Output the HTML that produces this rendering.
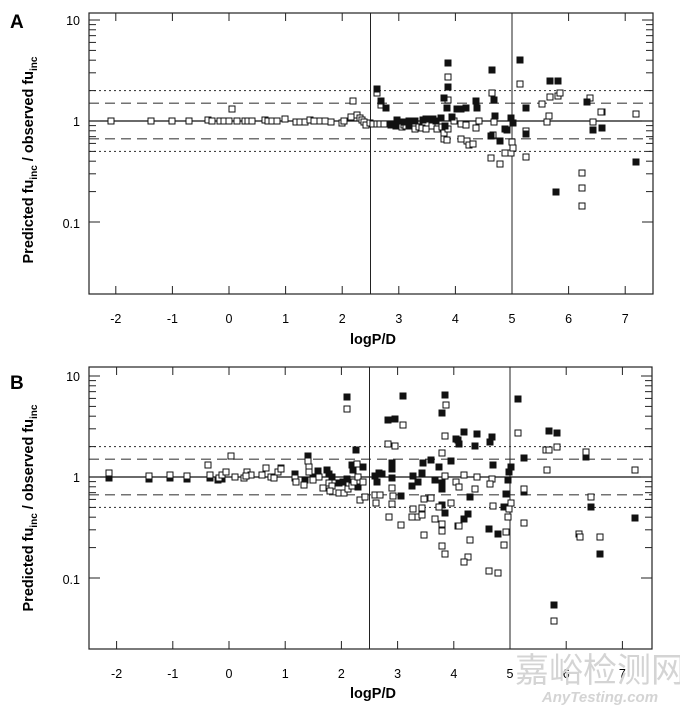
<!DOCTYPE html>
<html><head><meta charset="utf-8"><style>
html,body{margin:0;padding:0;background:#fff;}
svg{display:block;font-family:"Liberation Sans",Arial,sans-serif;}
</style></head><body>
<svg id="s" width="680" height="710" viewBox="0 0 680 710" xmlns="http://www.w3.org/2000/svg">
<text x="10" y="28" font-size="19" font-weight="bold">A</text>
<text x="10" y="389" font-size="19" font-weight="bold">B</text>
<text transform="translate(33,160) rotate(-90)" font-size="14.5" font-weight="bold" text-anchor="middle">Predicted fu<tspan font-size="10" dy="4">inc</tspan><tspan dy="-4"> / observed fu</tspan><tspan font-size="10" dy="4">inc</tspan></text>
<text transform="translate(33,508) rotate(-90)" font-size="14.5" font-weight="bold" text-anchor="middle">Predicted fu<tspan font-size="10" dy="4">inc</tspan><tspan dy="-4"> / observed fu</tspan><tspan font-size="10" dy="4">inc</tspan></text>
<text x="373" y="344" font-size="14.5" font-weight="bold" text-anchor="middle">logP/D</text>
<text x="373" y="698" font-size="14.5" font-weight="bold" text-anchor="middle">logP/D</text>
<g font-size="12.5" text-anchor="end">
<text x="80" y="25">10</text><text x="80" y="126">1</text><text x="80" y="228">0.1</text>
<text x="80" y="381">10</text><text x="80" y="482">1</text><text x="80" y="584">0.1</text>
</g>
<g id="xl" font-size="12.5" text-anchor="middle"></g>
<text x="600" y="682" font-size="34" fill="#d4d4d4" text-anchor="middle" font-family="'Noto Sans CJK SC',sans-serif">嘉峪检测网</text>
<text x="600" y="702" font-size="15" fill="#d4d4d4" text-anchor="middle" font-style="italic" font-weight="bold">AnyTesting.com</text>
<g id="g"></g>
</svg>
<script>
var NS="http://www.w3.org/2000/svg",g=document.getElementById('g'),xl=document.getElementById('xl');
function el(t,a,p){var e=document.createElementNS(NS,t);for(var k in a)e.setAttribute(k,a[k]);(p||g).appendChild(e);return e;}
function panel(top,bot,y1,xr5,right){
 var L=89,R=right,X=function(v){return 229+(xr5-229)/5*v;},Y=function(v){return y1-101*Math.log10(v);};
 [[2,"2,3"],[0.5,"2,3"],[1.5,"10,6"],[0.667,"10,6"]].forEach(function(h){el('line',{x1:L,x2:R,y1:Y(h[0]),y2:Y(h[0]),stroke:'#444','stroke-width':1.1,'stroke-dasharray':h[1]});});
 el('line',{x1:L,x2:R,y1:y1,y2:y1,stroke:'#111','stroke-width':1.3});
 el('line',{x1:X(2.5),x2:X(2.5),y1:top,y2:bot,stroke:'#222','stroke-width':1});
 el('line',{x1:X(5),x2:X(5),y1:top,y2:bot,stroke:'#222','stroke-width':1});
 for(var v=-2;v<=7;v++){var x=X(v);
  el('line',{x1:x,x2:x,y1:top,y2:top+8,stroke:'#222'});el('line',{x1:x,x2:x,y1:bot,y2:bot-8,stroke:'#222'});
  var t=el('text',{x:x,y:bot+29},xl);t.textContent=v;}
 [10,1,0.1].forEach(function(d){for(var m=1;m<10;m++){var v=d*m;var y=Y(v);if(y<top||y>bot)continue;var len=m==1?11:7;
  el('line',{x1:L,x2:L+len,y1:y,y2:y,stroke:'#222'});el('line',{x1:R,x2:R-len,y1:y,y2:y,stroke:'#222'});}});
 el('rect',{x:L,y:top,width:R-L,height:bot-top,fill:'none',stroke:'#222','stroke-width':1.2});
}
panel(13,294,121,512,653);
panel(367,649,477,510,652);
function pts(arr,fill){for(var i=0;i<arr.length;i+=2)el('rect',{x:arr[i]-3,y:arr[i+1]-3,width:6,height:6,fill:fill,stroke:'#111','stroke-width':1});}
// Panel A
pts([111,121,151,121,172,121,189,121,208,120,212,121,220,121,224,121,229,121,237,121,245,121,248,121,252,121,265,120,268,121,272,121,277,121,285,119,296,122,300,122,305,122,310,120,314,121,320,121,325,121,331,122,232,109,
342,123,344,121,351,117,353,101,357,115,360,118,362,120,364,122,366,125,370,123,373,124,377,124,380,124,384,124,391,125,393,124,400,123,402,127,404,125,406,126,415,129,419,127,422,128,426,129,432,126,437,129,442,127,444,133,448,129,444,139,447,140,454,121,461,124,466,125,461,139,467,141,469,145,473,144,476,128,479,121,492,93,494,122,493,135,491,158,500,164,505,153,511,153,512,142,513,148,520,84,526,131,526,157,549,116,550,97,558,96,560,93,590,98,593,122,602,112,636,114,582,173,582,206,582,188,601,112,542,104,547,122,377,93,381,105,448,77,448,100],'#fff');
pts([377,89,381,101,386,108,391,125,397,120,404,122,409,121,415,121,423,120,426,119,433,119,436,121,441,118,445,126,444,98,447,108,448,87,448,63,452,117,457,109,461,109,466,108,477,108,476,101,492,70,494,100,495,116,491,136,500,141,505,129,507,130,511,118,513,123,520,60,526,108,526,134,550,81,558,81,587,102,593,130,602,128,636,162,556,192,396,126,409,126],'#111');
// Panel B
pts([109,478,149,479,170,478,187,479,210,478,218,480,222,479,
347,397,403,396,445,395,442,413,388,420,395,419,456,439,356,450,308,456,392,463,392,469,423,463,431,460,439,467,451,461,422,473,413,476,418,482,412,486,435,480,442,483,442,489,401,496,392,478,375,476,379,473,382,474,377,482,363,467,353,470,352,465,347,479,339,483,343,482,329,474,332,477,318,471,313,477,305,480,295,474,327,470,442,505,445,513,358,487,
518,399,464,432,477,434,492,437,490,442,458,440,459,444,475,446,549,431,557,433,524,458,493,465,511,467,509,472,508,480,524,492,506,494,470,497,586,457,504,507,591,507,468,514,464,519,489,529,498,534,635,518,600,554,554,605],'#111');
pts([109,473,149,476,170,475,187,476,208,465,210,475,231,456,219,478,222,475,226,472,235,477,244,478,247,472,251,475,262,475,266,468,271,477,274,478,278,472,281,468,246,476,
347,409,403,425,446,405,445,436,388,444,395,446,442,453,308,461,309,467,309,472,357,464,281,469,295,478,296,482,304,485,313,480,319,477,323,488,329,483,332,486,330,491,339,493,344,493,348,489,352,486,354,482,358,477,363,482,360,500,365,497,375,495,376,503,380,495,392,488,393,496,392,504,389,517,401,525,413,509,417,517,412,517,422,508,422,515,424,499,431,498,439,507,435,519,442,524,442,531,424,535,442,546,445,554,445,476,456,482,451,503,458,526,
518,433,546,450,549,450,557,447,586,452,547,470,635,470,464,475,477,477,492,479,490,484,456,482,459,487,475,489,524,489,591,497,511,503,509,509,493,506,508,517,459,526,524,523,506,532,504,545,470,540,579,534,580,537,600,537,468,557,464,562,489,571,498,573,554,621],'#fff');
</script>
</body></html>
